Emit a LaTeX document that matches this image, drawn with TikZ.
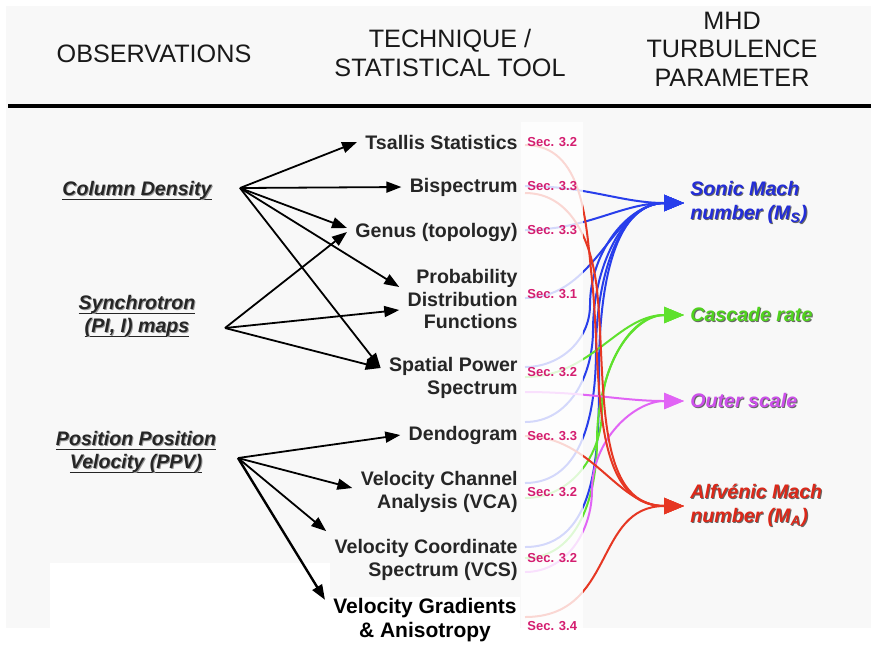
\documentclass[tikz,border=0pt]{standalone}
\usepackage{fontspec}
\setmainfont{Liberation Sans}
\usetikzlibrary{arrows.meta}

\definecolor{bggray}{RGB}{248,248,248}
\definecolor{secpink}{RGB}{212,30,112}
\definecolor{mhdblue}{RGB}{40,62,235}
\definecolor{mhdgreen}{RGB}{95,225,45}
\definecolor{mhdpink}{RGB}{225,100,245}
\definecolor{mhdred}{RGB}{230,55,35}
\definecolor{bluetext}{RGB}{35,45,215}
\definecolor{greentext}{RGB}{80,210,30}
\definecolor{pinktext}{RGB}{205,80,235}
\definecolor{redtext}{RGB}{220,40,25}

% text with a small drop shadow: shadow colour, text colour, text
\newcommand\txtshadow[3]{\makebox[0pt][l]{\hspace{0.5pt}\raisebox{-0.5pt}{\textcolor{#1}{#3}}}\textcolor{#2}{#3}}
% underlined observation line
\newcommand\obsul[1]{\setbox0\hbox{#1}\makebox[0pt][l]{\rule[-2.4pt]{\wd0}{0.6pt}}\txtshadow{black!40}{black!85}{#1}}
\newcommand\paramtxt[2]{\txtshadow{black!60}{#1}{#2}}

\pgfdeclarelayer{bg}
\pgfdeclarelayer{flows}
\pgfdeclarelayer{veil}
\pgfsetlayers{bg,flows,veil,main}

\begin{document}
\begin{tikzpicture}[x=0.5pt,y=0.5pt,
  head/.style={font=\fontsize{12.6}{14.3}\selectfont, align=center, text=black!90},
  obs/.style={font=\fontsize{9.8}{11.5}\selectfont\bfseries\itshape, align=center, text=black!85},
  tech/.style={font=\fontsize{9.8}{11.3}\selectfont\bfseries, align=right, anchor=east, inner sep=4pt, text=black!85},
  sec/.style={font=\fontsize{6.5}{7}\selectfont\bfseries, anchor=west, inner sep=1pt, text=secpink},
  param/.style={font=\fontsize{9.8}{12}\selectfont\bfseries\itshape, align=left, anchor=west, inner sep=3pt},
  obsarrow/.style={line width=0.9pt, -{Triangle[length=7.5pt,width=5.5pt]}},
  flow/.style={line width=1pt, -{Triangle[length=10pt,width=8pt]}}]
\useasboundingbox (0,0) rectangle (871,-645);
% backdrop
\begin{pgfonlayer}{bg}
\fill[bggray] (6,-6) rectangle (871,-628);
\fill[white] (50,-563) rectangle (330,-645);
\fill[white] (330,-597) rectangle (520,-645);
\end{pgfonlayer}

% column heads
\node[head] (hobs) at (154,-54) {OBSERVATIONS};
\node[head] (htech) at (450,-53) {TECHNIQUE /\\STATISTICAL TOOL};
\node[head] (hmhd) at (732,-49) {MHD\\TURBULENCE\\PARAMETER};
\draw[line width=1.6pt] (8,-106) -- (871,-106);

% observations
\node[obs] (cd) at (137,-191) {\obsul{Column Density}};
\node[obs] (syn) at (137,-316) {\obsul{Synchrotron}\\\obsul{(PI, I) maps}};
\node[obs] (ppv) at (136,-452) {\obsul{Position Position}\\\obsul{Velocity (PPV)}};
\coordinate (cdfan) at (240,-188);
\coordinate (synfan) at (225,-328);
\coordinate (ppvfan) at (238,-458);

% techniques
\node[tech] (tsal) at (526,-142) {Tsallis Statistics};
\node[tech] (bisp) at (526,-187) {Bispectrum};
\node[tech] (genus) at (526,-232) {Genus (topology)};
\node[tech] (pdf) at (526,-299) {Probability\\Distribution\\Functions};
\node[tech] (sps) at (526,-378) {Spatial Power\\Spectrum};
\node[tech] (dend) at (526,-435) {Dendogram};
\node[tech] (vca) at (526,-492) {Velocity Channel\\Analysis (VCA)};
\node[tech] (vcs) at (526,-560) {Velocity Coordinate\\Spectrum (VCS)};
\node[font=\fontsize{10.5}{12}\selectfont\bfseries, align=center, inner sep=4pt] (vga) at (425,-620) {Velocity Gradients\\\& Anisotropy};

% section labels
\node[sec] (s1) at (525,-142) {Sec. 3.2};
\node[sec] (s2) at (525,-186) {Sec. 3.3};
\node[sec] (s3) at (525,-230) {Sec. 3.3};
\node[sec] (s4) at (525,-294) {Sec. 3.1};
\node[sec] (s5) at (525,-372) {Sec. 3.2};
\node[sec] (s6) at (525,-436) {Sec. 3.3};
\node[sec] (s7) at (525,-492) {Sec. 3.2};
\node[sec] (s8) at (525,-558) {Sec. 3.2};
\node[sec] (s9) at (525,-626) {Sec. 3.4};

% parameters
\node[param] (mach) at (684,-203) {\paramtxt{bluetext}{Sonic Mach}\\\paramtxt{bluetext}{number (M\textsubscript{S})}};
\node[param] (casc) at (684,-315) {\paramtxt{greentext}{Cascade rate}};
\node[param] (outer) at (684,-401) {\paramtxt{pinktext}{Outer scale}};
\node[param] (alf) at (684,-506) {\paramtxt{redtext}{Alfvénic Mach}\\\paramtxt{redtext}{number (M\textsubscript{A})}};

% observation -> technique
\draw[obsarrow] (cdfan) -- (tsal.west);
\draw[obsarrow] (cdfan) -- (bisp.west);
\draw[obsarrow] (cdfan) -- ([yshift=2pt]genus.west);
\draw[obsarrow] (cdfan) -- ([yshift=6pt]pdf.west);
\draw[obsarrow] (cdfan) -- ([yshift=5pt]sps.west);
\draw[obsarrow] (synfan) -- (genus.west);
\draw[obsarrow] (synfan) -- ([yshift=-5.5pt]pdf.west);
\draw[obsarrow] (synfan) -- ([yshift=5pt]sps.west);
\draw[obsarrow] (ppvfan) -- (dend.west);
\draw[obsarrow] (ppvfan) -- ([yshift=2pt]vca.west);
\draw[obsarrow] (ppvfan) -- (vcs.north west);
\draw[obsarrow, line width=1.2pt] (ppvfan) -- ([yshift=-5pt]vga.north west);

% technique -> parameter
\begin{pgfonlayer}{flows}
\draw[flow,mhdblue] (s2.west) to[out=0,in=180] (mach.west);
\draw[flow,mhdblue] (s3.west) to[out=0,in=180] (mach.west);
\draw[flow,mhdblue] ([yshift=-2pt]s4.west) to[out=0,in=180] (mach.west);
\draw[flow,mhdblue] ([yshift=2.5pt]s5.west) to[out=0,in=-90] (590,-305) to[out=90,in=180] (mach.west);
\draw[flow,mhdblue] ([yshift=7pt]s6.west) to[out=0,in=-90] (593,-330) to[out=90,in=180] (mach.west);
\draw[flow,mhdblue] ([yshift=4.5pt]s7.west) to[out=0,in=-90] (596,-350) to[out=90,in=180] (mach.west);
\draw[flow,mhdblue] ([yshift=5.5pt]s8.west) to[out=0,in=-90] (599,-370) to[out=90,in=180] (mach.west);
\draw[flow,mhdgreen] ([yshift=-2.5pt]s5.west) to[out=0,in=180] (casc.west);
\draw[flow,mhdgreen] ([yshift=-3pt]s7.west) to[out=0,in=-90] (602,-410) to[out=90,in=180] (casc.west);
\draw[flow,mhdgreen] (s8.west) to[out=0,in=-90] (597,-440) to[out=90,in=180] (casc.west);
\draw[flow,mhdpink] ([yshift=-10pt]s5.west) to[out=0,in=180] (outer.west);
\draw[flow,mhdpink] ([yshift=-7pt]s8.west) to[out=0,in=-90] (592,-490) to[out=90,in=180] (outer.west);
\draw[flow,mhdred] ([yshift=-1.5pt]s1.west) to[out=0,in=96] (592,-280) to[out=-84,in=180] (alf.west);
\draw[flow,mhdred] ([yshift=-3.5pt]s2.west) to[out=0,in=96] (597,-290) to[out=-84,in=180] (alf.west);
\draw[flow,mhdred] (s6.west) to[out=0,in=180] (alf.west);
\draw[flow,mhdred] ([yshift=4.5pt]s9.west) to[out=0,in=180,looseness=1.2] (alf.west);
\end{pgfonlayer}
\begin{pgfonlayer}{veil}
\fill[white,opacity=0.8] (521,-122) rectangle (583,-645);
\end{pgfonlayer}
\end{tikzpicture}
\end{document}
